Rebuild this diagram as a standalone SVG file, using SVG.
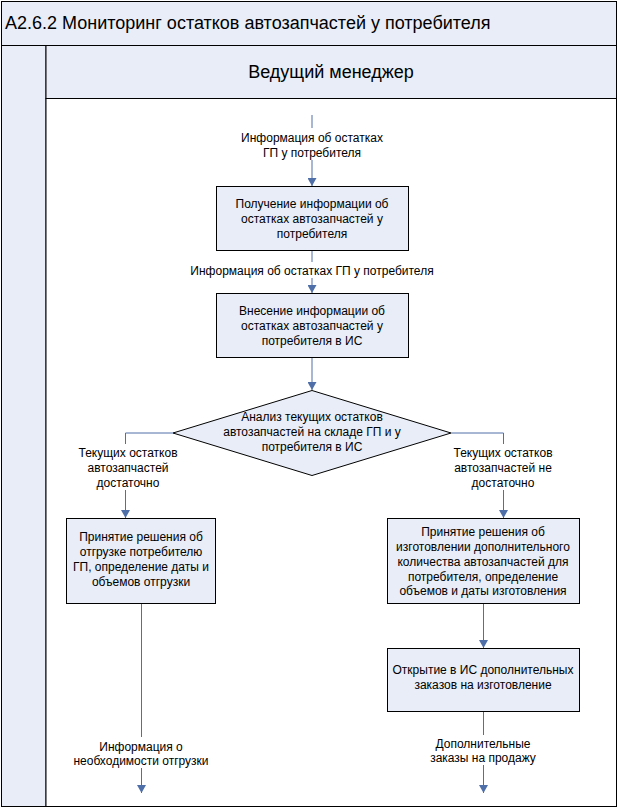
<svg xmlns="http://www.w3.org/2000/svg" width="618" height="809" viewBox="0 0 618 809">
<defs>
<style>
.hdr{fill:#e8edf7;stroke:#000;stroke-width:1}
.box{fill:#e8edf7;stroke:#000;stroke-width:1}
.ln{fill:none;stroke:#4f6fa8;stroke-width:1}
.t{font-family:"Liberation Sans",Arial,sans-serif;font-size:12px;fill:#000;text-anchor:middle}
.big{font-family:"Liberation Sans",Arial,sans-serif;font-size:18px;fill:#000}
</style>
<marker id="ah" viewBox="0 0 8 9" refX="8" refY="4.5" markerWidth="8" markerHeight="9" orient="auto" markerUnits="userSpaceOnUse">
<path d="M0,0 L8,4.5 L0,9 Z" fill="#4f6fa8"/>
</marker>
</defs>
<rect x="0" y="0" width="618" height="809" fill="#fff"/>
<g id="frame">
<rect class="hdr" x="1.5" y="1.5" width="615" height="44"/>
<rect class="hdr" x="1.5" y="45.5" width="44.5" height="761"/>
<rect class="hdr" x="46" y="45.5" width="570.5" height="53"/>
<rect x="46" y="98.5" width="570.5" height="708" fill="#fff" stroke="#000"/>
<text class="big" x="5" y="29">A2.6.2 Мониторинг остатков автозапчастей у потребителя</text>
<text class="big" x="331" y="78" text-anchor="middle">Ведущий менеджер</text>
</g>
<g id="connectors">
<line class="ln" x1="312" y1="115" x2="312" y2="128"/>
<line class="ln" x1="312" y1="160" x2="312" y2="186" marker-end="url(#ah)"/>
<line class="ln" x1="312" y1="251" x2="312" y2="262"/>
<line class="ln" x1="312" y1="278" x2="312" y2="293" marker-end="url(#ah)"/>
<line class="ln" x1="312" y1="357" x2="312" y2="390" marker-end="url(#ah)"/>
<polyline class="ln" points="173,433 125.5,433 125.5,444"/>
<line class="ln" x1="125.5" y1="490" x2="125.5" y2="518" marker-end="url(#ah)"/>
<polyline class="ln" points="451,433 503.5,433 503.5,444"/>
<line class="ln" x1="503.5" y1="490" x2="503.5" y2="518" marker-end="url(#ah)"/>
<line class="ln" x1="141.5" y1="604" x2="141.5" y2="737"/>
<line class="ln" x1="141.5" y1="768" x2="141.5" y2="793" marker-end="url(#ah)"/>
<line class="ln" x1="483.5" y1="604" x2="483.5" y2="648" marker-end="url(#ah)"/>
<line class="ln" x1="483.5" y1="711" x2="483.5" y2="735"/>
<line class="ln" x1="483.5" y1="765" x2="483.5" y2="793" marker-end="url(#ah)"/>
<text class="t" x="312" y="142">Информация об остатках</text>
<text class="t" x="312" y="157">ГП у потребителя</text>
<text class="t" x="312" y="275">Информация об остатках ГП у потребителя</text>
<text class="t" x="128" y="457">Текущих остатков</text>
<text class="t" x="128" y="472">автозапчастей</text>
<text class="t" x="128" y="487">достаточно</text>
<text class="t" x="503" y="457">Текущих остатков</text>
<text class="t" x="503" y="472">автозапчастей не</text>
<text class="t" x="503" y="487">достаточно</text>
<text class="t" x="141" y="751">Информация о</text>
<text class="t" x="141" y="765">необходимости отгрузки</text>
<text class="t" x="483" y="748">Дополнительные</text>
<text class="t" x="483" y="762">заказы на продажу</text>
</g>
<g id="n1">
<rect class="box" x="216.5" y="186.5" width="192" height="64"/>
<text class="t" x="312" y="208">Получение информации об</text>
<text class="t" x="312" y="223">остатках автозапчастей у</text>
<text class="t" x="312" y="238">потребителя</text>
</g>
<g id="n2">
<rect class="box" x="216.5" y="293.5" width="192" height="64"/>
<text class="t" x="312" y="315">Внесение информации об</text>
<text class="t" x="312" y="330">остатках автозапчастей у</text>
<text class="t" x="312" y="345">потребителя в ИС</text>
</g>
<g id="d1">
<polygon class="box" points="312,390.5 451,433 312,475.5 173,433"/>
<text class="t" x="312" y="421">Анализ текущих остатков</text>
<text class="t" x="312" y="436">автозапчастей на складе ГП и у</text>
<text class="t" x="312" y="451">потребителя в ИС</text>
</g>
<g id="n3">
<rect class="box" x="66.5" y="518.5" width="149" height="85"/>
<text class="t" x="141" y="541">Принятие решения об</text>
<text class="t" x="141" y="556">отгрузке потребителю</text>
<text class="t" x="141" y="571">ГП, определение даты и</text>
<text class="t" x="141" y="586">объемов отгрузки</text>
</g>
<g id="n4">
<rect class="box" x="387.5" y="518.5" width="192" height="85"/>
<text class="t" x="483" y="536">Принятие решения об</text>
<text class="t" x="483" y="551">изготовлении дополнительного</text>
<text class="t" x="483" y="566">количества автозапчастей для</text>
<text class="t" x="483" y="581">потребителя, определение</text>
<text class="t" x="483" y="595">объемов и даты изготовления</text>
</g>
<g id="n5">
<rect class="box" x="387.5" y="648.5" width="192" height="63"/>
<text class="t" x="483" y="674">Открытие в ИС дополнительных</text>
<text class="t" x="483" y="689">заказов на изготовление</text>
</g>
</svg>
